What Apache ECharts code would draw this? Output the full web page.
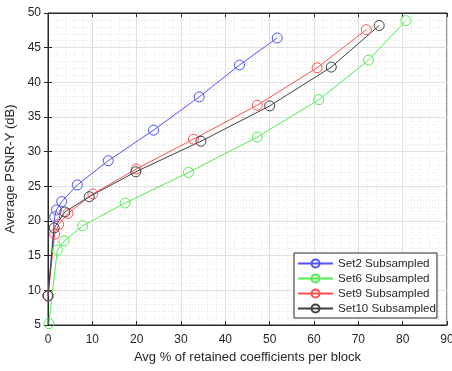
<!DOCTYPE html>
<html>
<head>
<meta charset="utf-8">
<script src="https://cdn.jsdelivr.net/npm/echarts@6/dist/echarts.min.js"></script>
<style>
  html, body { margin: 0; padding: 0; background: #fff; }
  #chart { width: 452px; height: 371px; }
</style>
</head>
<body>
<div id="chart"></div>
<script>
const set2X = [0, 1.5, 1.9, 3.1, 6.6, 13.6, 23.8, 34.1, 43.2, 51.7]
const set2Y = [9.2, 20.6, 21.6, 22.8, 25.2, 28.7, 33.1, 37.9, 42.5, 46.4]
const set6X = [0.2, 2.1, 3.6, 7.8, 17.4, 31.7, 47.2, 61.1, 72.3, 80.7]
const set6Y = [5.2, 15.8, 17.1, 19.3, 22.6, 27.0, 32.1, 37.5, 43.2, 48.9]
const set9X = [0, 1.5, 2.4, 4.5, 10.1, 19.9, 32.8, 47.2, 60.7, 71.8]
const set9Y = [9.2, 18.1, 19.5, 21.1, 23.9, 27.5, 31.8, 36.7, 42.1, 47.6]
const set10X = [0, 1.4, 3.8, 9.3, 19.8, 34.5, 50.0, 63.9, 74.7]
const set10Y = [9.2, 19.0, 21.3, 23.5, 27.1, 31.5, 36.6, 42.2, 48.2]

const seriesNames = ['Set2 Subsampled', 'Set6 Subsampled', 'Set9 Subsampled', 'Set10 Subsampled']
const seriesColors = ['#5050ff', '#50ee50', '#ff5050', '#404040']

const chart = echarts.init(document.getElementById('chart'))
const font = 'Liberation Sans, Arial, sans-serif'
const textColor = '#262626'

const pairs = (xs, ys) => xs.map((x, i) => [x, ys[i]])
const makeSeries = (name, color, xs, ys) => ({
  name,
  type: 'line',
  data: pairs(xs, ys),
  symbol: 'circle',
  symbolSize: 10,
  lineStyle: { color, width: 1 },
  itemStyle: { color: 'rgba(255,255,255,0)', borderColor: color, borderWidth: 1 },
  emphasis: { disabled: true },
  animation: false
})

const axisCommon = {
  axisLine: { show: true, lineStyle: { color: '#262626', width: 1 } },
  axisTick: { show: true, inside: true, length: 4, lineStyle: { color: '#262626' } },
  minorTick: { show: false },
  axisLabel: { color: textColor, fontFamily: font, fontSize: 12 }
}

chart.setOption({
  animation: false,
  grid: {
    left: 48, right: 5, top: 13, bottom: 46,
    outerBoundsMode: 'none',
    containLabel: false,
    show: true, borderColor: '#262626', borderWidth: 1
  },
  legend: {
    orient: 'vertical',
    left: 294,
    top: 253,
    padding: [4, 1, 3, 3],
    itemGap: 2,
    itemWidth: 35,
    itemHeight: 10,
    borderColor: '#262626',
    borderWidth: 1,
    backgroundColor: '#fff',
    textStyle: { color: textColor, fontFamily: font, fontSize: 11.6, lineHeight: 13 },
    data: seriesNames
  },
  xAxis: [{
    ...axisCommon,
    type: 'value',
    min: 0, max: 90, interval: 10,
    name: 'Avg % of retained coefficients per block',
    nameLocation: 'middle',
    nameGap: 24,
    nameTextStyle: { color: textColor, fontFamily: font, fontSize: 13 },
    axisLabel: { ...axisCommon.axisLabel, margin: 9 },
    minorTick: { show: false, splitNumber: 5 },
    splitLine: { show: true, lineStyle: { color: '#e0e0e0', width: 1 } },
    minorSplitLine: { show: true, lineStyle: { color: '#e6e6e6', type: [1, 2], width: 1 } }
  }, {
    ...axisCommon,
    type: 'value',
    position: 'top',
    min: 0, max: 90, interval: 10,
    axisLabel: { show: false },
    splitLine: { show: false }
  }],
  yAxis: [{
    ...axisCommon,
    type: 'value',
    min: 5, max: 50, interval: 5,
    name: 'Average PSNR-Y (dB)',
    nameLocation: 'middle',
    nameGap: 27,
    nameTextStyle: { color: textColor, fontFamily: font, fontSize: 13 },
    axisLabel: { ...axisCommon.axisLabel, margin: 7 },
    minorTick: { show: false, splitNumber: 5 },
    splitLine: { show: true, lineStyle: { color: '#e0e0e0', width: 1 } },
    minorSplitLine: { show: true, lineStyle: { color: '#e6e6e6', type: [1, 2], width: 1 } }
  }, {
    ...axisCommon,
    type: 'value',
    position: 'right',
    min: 5, max: 50, interval: 5,
    axisLabel: { show: false },
    splitLine: { show: false }
  }],
  series: [
    makeSeries(seriesNames[0], seriesColors[0], set2X, set2Y),
    makeSeries(seriesNames[1], seriesColors[1], set6X, set6Y),
    makeSeries(seriesNames[2], seriesColors[2], set9X, set9Y),
    makeSeries(seriesNames[3], seriesColors[3], set10X, set10Y)
  ]
})
</script>
</body>
</html>
